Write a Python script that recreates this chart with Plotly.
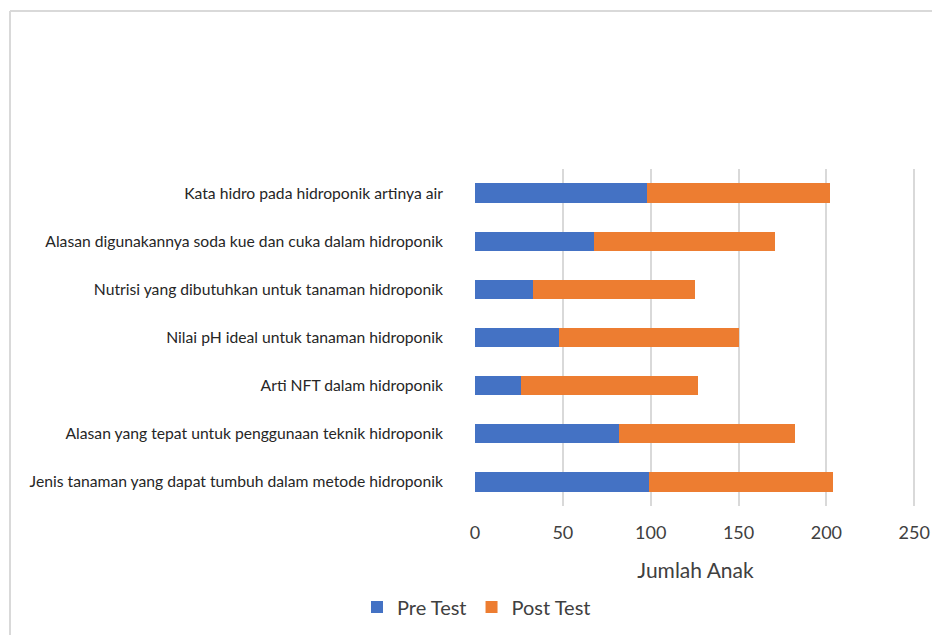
import plotly.graph_objects as go

# Questions, listed top to bottom as shown on the chart
categories = [
    "Kata hidro pada hidroponik artinya air",
    "Alasan digunakannya soda kue dan cuka dalam hidroponik",
    "Nutrisi yang dibutuhkan untuk tanaman hidroponik",
    "Nilai pH ideal untuk tanaman hidroponik",
    "Arti NFT dalam hidroponik",
    "Alasan yang tepat untuk penggunaan teknik hidroponik",
    "Jenis tanaman yang dapat tumbuh dalam metode hidroponik",
]
pre_test = [98, 68, 33, 48, 26, 82, 99]
post_test = [104, 103, 92, 102, 101, 100, 105]
x_ticks = [0, 50, 100, 150, 200, 250]

W, H = 932, 635
L, R, T, B = 475, 16, 169, 129
pw, ph = W - L - R, H - T - B


def px_x(p):
    return (p - L) / pw


def px_y(p):
    return (H - B - p) / ph


fig = go.Figure()
fig.add_trace(go.Bar(
    y=categories, x=pre_test, name="Pre Test", orientation="h",
    marker=dict(color="#4472C4", line=dict(width=0)),
))
fig.add_trace(go.Bar(
    y=categories, x=post_test, name="Post Test", orientation="h",
    marker=dict(color="#ED7D31", line=dict(width=0)),
))

font_family = "Lato, 'Open Sans', sans-serif"

fig.update_layout(
    width=W, height=H,
    margin=dict(l=L, r=R, t=T, b=B, pad=0, autoexpand=False),
    barmode="stack",
    bargap=0.6,
    paper_bgcolor="white",
    plot_bgcolor="white",
    font=dict(family=font_family, color="#404040"),
    showlegend=True,
    legend=dict(
        orientation="h",
        x=px_x(357), y=px_y(607),
        xanchor="left", yanchor="middle",
        font=dict(size=20, color="#404040"),
        itemwidth=30,
        traceorder="normal",
        bgcolor="rgba(0,0,0,0)",
    ),
    xaxis=dict(
        # a small pad past 250 keeps the last gridline visible
        range=[0, 251],
        tickvals=x_ticks,
        showgrid=True, gridcolor="#D9D9D9", gridwidth=1.5,
        zeroline=False, showline=False,
        ticks="",
        automargin=False,
        ticklabelstandoff=14,
        tickfont=dict(size=18, color="#404040"),
        title=dict(text="Jumlah Anak", font=dict(size=21, color="#404040"), standoff=21),
        fixedrange=True,
    ),
    yaxis=dict(
        autorange="reversed",
        showgrid=False, zeroline=False, showline=False,
        ticks="",
        automargin=False,
        ticklabelstandoff=31,
        tickfont=dict(size=15.7, color="#262626"),
        fixedrange=True,
    ),
    shapes=[
        dict(type="line", xref="paper", yref="paper",
             x0=px_x(10), x1=px_x(10), y0=px_y(11), y1=px_y(640),
             line=dict(color="#D9D9D9", width=2)),
        dict(type="line", xref="paper", yref="paper",
             x0=px_x(10), x1=px_x(940), y0=px_y(11), y1=px_y(11),
             line=dict(color="#D9D9D9", width=2)),
    ],
)

fig.write_html("out.html", config={"displayModeBar": False})
